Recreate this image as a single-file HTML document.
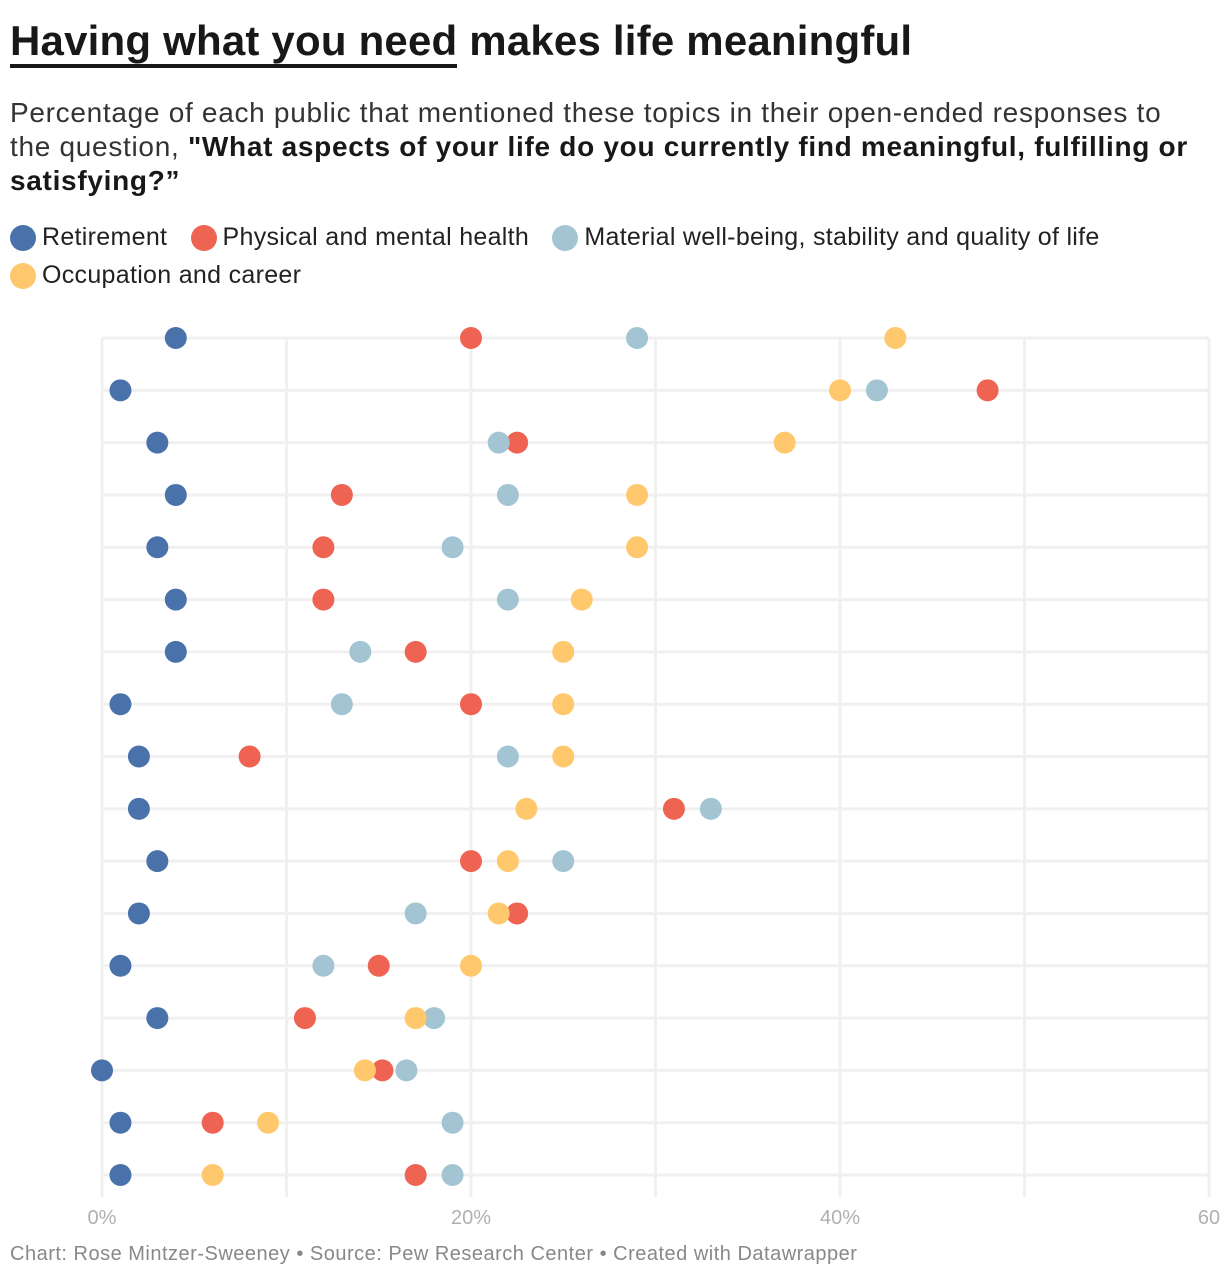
<!DOCTYPE html>
<html><head><meta charset="utf-8"><style>
body{margin:0;background:#fff;width:1220px;height:1280px;overflow:hidden;font-family:"Liberation Sans",sans-serif;color:#181818}
h1{position:absolute;left:10px;top:17px;margin:0;font-size:42px;font-weight:bold;letter-spacing:0.2px}
h1 u{text-decoration:none;border-bottom:4px solid #181818}
.sub{position:absolute;left:10px;top:96px;width:1200px;font-size:28px;line-height:34px;color:#333;letter-spacing:0.7px}
.leg{position:absolute;left:10px;top:218px;width:1205px;font-size:25px;line-height:38px;color:#222;letter-spacing:0.3px}
.li{display:inline-block;margin-right:16px}
.dot{display:inline-block;width:26px;height:26px;border-radius:50%;vertical-align:-6px;margin-right:6px}
.foot{position:absolute;left:10px;top:1243px;font-size:20px;color:#888;letter-spacing:0.5px}
svg{position:absolute;left:0;top:0}
</style></head><body>
<h1><u>Having what you need</u> makes life meaningful</h1>
<div class="sub">Percentage of each public that mentioned these topics in their open-ended responses to the question, <b style="color:#181818">"What aspects of your life do you currently find meaningful, fulfilling or satisfying?”</b></div>
<div class="leg">
<span class="li"><span class="dot" style="background:#4a72aa"></span>Retirement</span>
<span class="li"><span class="dot" style="background:#ee6352"></span>Physical and mental health</span>
<span class="li"><span class="dot" style="background:#a3c4d3"></span>Material well-being, stability and quality of life</span><br>
<span class="li"><span class="dot" style="background:#ffc86d"></span>Occupation and career</span>
</div>
<svg id="chart" width="1220" height="1280"></svg>
<div class="foot">Chart: Rose Mintzer-Sweeney • Source: Pew Research Center • Created with Datawrapper</div>
<script>
const ticks=[0,10,20,30,40,50,60];
const tickLabels=["0%","","20%","","40%","","60"];
const retirement=[4,1,3,4,3,4,4,1,2,2,3,2,1,3,0,1,1];
const health=[20,48,22.5,13,12,12,17,20,8,31,20,22.5,15,11,15.2,6,17];
const material=[29,42,21.5,22,19,22,14,13,22,33,25,17,12,18,16.5,19,19];
const occupation=[43,40,37,29,29,26,25,25,25,23,22,21.5,20,17,14.25,9,6];
const series=[["retirement",retirement,"#4a72aa"],["health",health,"#ee6352"],["material",material,"#a3c4d3"],["occupation",occupation,"#ffc86d"]];
const svg=document.getElementById('chart');
const NS='http://www.w3.org/2000/svg';
const x=v=>102+v*(1209-102)/60;
const y=i=>338+i*(1175-338)/16;
function mk(t,a){const e=document.createElementNS(NS,t);for(const k in a)e.setAttribute(k,a[k]);svg.appendChild(e);return e;}
for(let i=0;i<retirement.length;i++){
  const l=mk('line',{x1:x(0),x2:x(60),y1:y(i),y2:y(i),stroke:'#f0f0f0','stroke-width':3});
  
  
}
ticks.forEach((t,j)=>{
  const l=mk('line',{x1:x(t),x2:x(t),y1:y(0),y2:y(16)+22,stroke:'#f0f0f0','stroke-width':3});
  
  
  if(tickLabels[j]){
    const tx=mk('text',{x:x(t),y:1224,'font-size':20,fill:'#b0b0b0','text-anchor':'middle','font-family':'Liberation Sans, sans-serif'});
    tx.textContent=tickLabels[j];
    
    
  }
});
series.forEach(([n,vals,c])=>{
  vals.forEach((v,i)=>{
    const d=mk('circle',{cx:x(v),cy:y(i),r:11,fill:c});
    
    
  });
});
</script>
</body></html>
